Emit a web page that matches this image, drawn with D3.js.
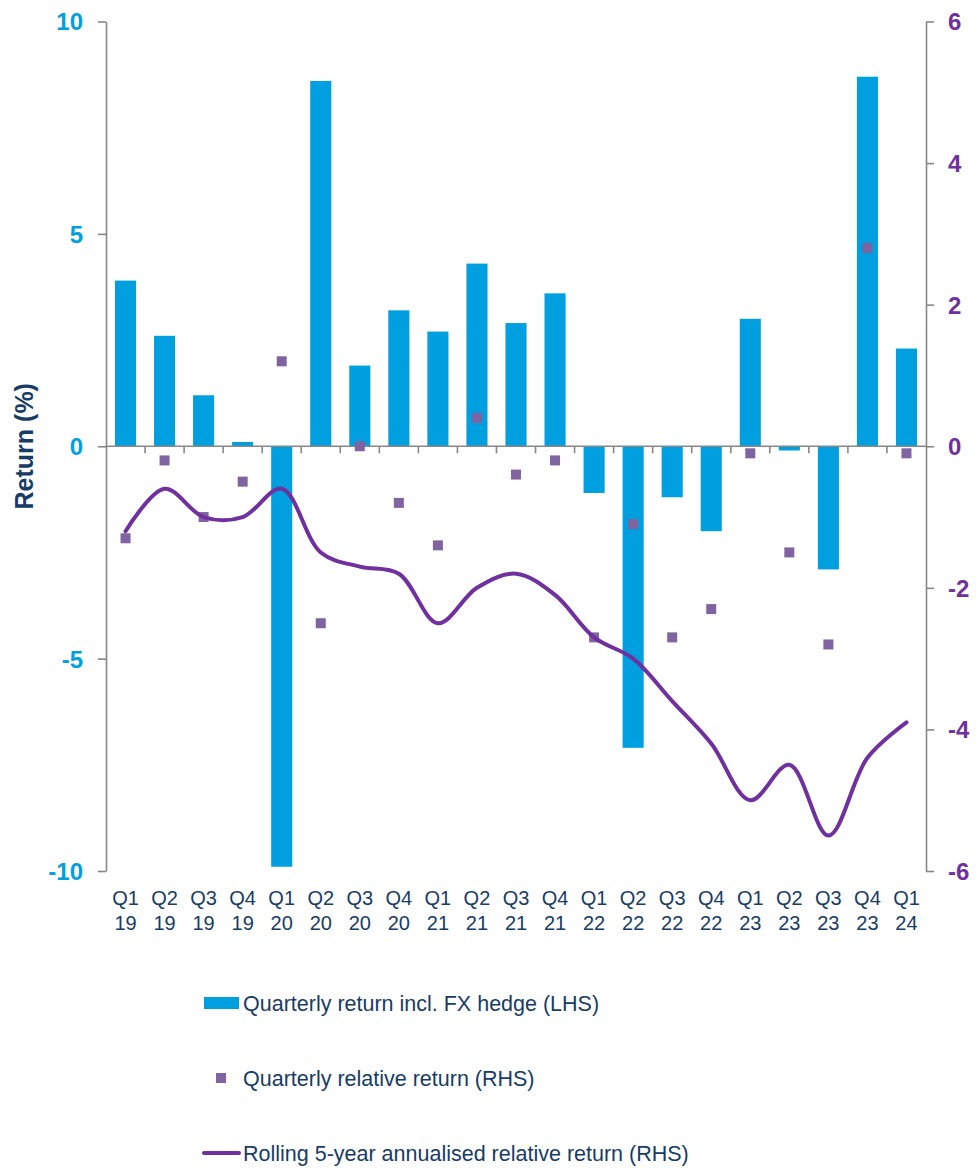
<!DOCTYPE html>
<html>
<head>
<meta charset="utf-8">
<script src="https://cdn.jsdelivr.net/npm/d3@7"></script>
<style>
  body { margin: 0; background: #fff; }
  svg { display: block; font-family: "Liberation Sans", Arial, sans-serif; }
</style>
</head>
<body>
<div id="chartContainer"></div>
<script>
// Quarters (two-line labels)
const quarters = ['Q1', 'Q2', 'Q3', 'Q4', 'Q1', 'Q2', 'Q3', 'Q4', 'Q1', 'Q2', 'Q3', 'Q4',
    'Q1', 'Q2', 'Q3', 'Q4', 'Q1', 'Q2', 'Q3', 'Q4', 'Q1'];
const years = ['19', '19', '19', '19', '20', '20', '20', '20', '21', '21', '21', '21',
    '22', '22', '22', '22', '23', '23', '23', '23', '24'];

// Quarterly return incl. FX hedge (LHS, %)
const quarterlyReturn = [3.9, 2.6, 1.2, 0.1, -9.9, 8.6, 1.9, 3.2, 2.7, 4.3, 2.9, 3.6,
    -1.1, -7.1, -1.2, -2.0, 3.0, -0.1, -2.9, 8.7, 2.3];

// Quarterly relative return (RHS, %)
const relativeReturn = [-1.3, -0.2, -1.0, -0.5, 1.2, -2.5, 0.0, -0.8, -1.4, 0.4, -0.4, -0.2,
    -2.7, -1.1, -2.7, -2.3, -0.1, -1.5, -2.8, 2.8, -0.1];

// Rolling 5-year annualised relative return (RHS, %)
const rollingReturn = [-1.2, -0.6, -1.0, -1.0, -0.6, -1.5, -1.7, -1.8, -2.5, -2.0, -1.8, -2.1,
    -2.7, -3.0, -3.6, -4.2, -5.0, -4.5, -5.5, -4.4, -3.9];

const leftTicks = [-10, -5, 0, 5, 10];
const rightTicks = [-6, -4, -2, 0, 2, 4, 6];

const legendLabels = [
    'Quarterly return incl. FX hedge (LHS)',
    'Quarterly relative return (RHS)',
    'Rolling 5-year annualised relative return (RHS)'
];

const COLORS = {
    bar: '#009fdf',
    dot: '#8064a2',
    line: '#7030a0',
    axis: '#878787',
    leftText: '#00a0e0',
    rightText: '#7030a0',
    navy: '#173c66'
};

const FONT = '"Liberation Sans", Arial, sans-serif';
const width = 976;
const height = 1168;
const plot = { left: 106, right: 926, top: 21.5, bottom: 871 };

const svg = d3.select('#chartContainer')
    .append('svg')
    .attr('width', width)
    .attr('height', height);

const idx = quarters.map((q, i) => i);

// X scale (band per quarter)
const x = d3.scaleBand()
    .domain(idx)
    .range([plot.left, plot.right])
    .paddingInner(0.46)
    .paddingOuter(0.23);

// Y scales
const yL = d3.scaleLinear().domain([-10, 10]).range([plot.bottom, plot.top]);
const yR = d3.scaleLinear().domain([-6, 6]).range([plot.bottom, plot.top]);

// Bars
svg.append('g')
    .selectAll('rect')
    .data(quarterlyReturn)
    .enter()
    .append('rect')
    .attr('x', (d, i) => x(i))
    .attr('y', d => yL(Math.max(0, d)))
    .attr('width', x.bandwidth())
    .attr('height', d => Math.abs(yL(d) - yL(0)))
    .attr('fill', COLORS.bar);

// Left axis
const leftAxis = svg.append('g')
    .attr('transform', `translate(${plot.left},0)`)
    .call(d3.axisLeft(yL).tickValues(leftTicks).tickSize(8).tickSizeOuter(0).tickPadding(15)
        .tickFormat(d => String(d)));

// Right axis
const rightAxis = svg.append('g')
    .attr('transform', `translate(${plot.right},0)`)
    .call(d3.axisRight(yR).tickValues(rightTicks).tickSize(8).tickSizeOuter(0).tickPadding(14)
        .tickFormat(d => String(d)));

[leftAxis, rightAxis].forEach(g => {
    g.attr('font-family', FONT).attr('font-size', 24);
    g.selectAll('path, line').attr('stroke', COLORS.axis).attr('stroke-width', 1.6);
    g.selectAll('text')
        .style('font-weight', 'bold')
        .attr('dy', '0.35em');
});
leftAxis.selectAll('text').attr('fill', COLORS.leftText);
rightAxis.selectAll('text').attr('fill', COLORS.rightText);

// Zero line with category tick marks
const zeroY = yL(0);
const cat = svg.append('g');
cat.append('line')
    .attr('x1', plot.left).attr('x2', plot.right)
    .attr('y1', zeroY).attr('y2', zeroY)
    .attr('stroke', COLORS.axis).attr('stroke-width', 1.6);

const halfGap = (x.step() - x.bandwidth()) / 2;
cat.selectAll('line.tick')
    .data(idx.slice(1))
    .enter()
    .append('line')
    .attr('class', 'tick')
    .attr('x1', i => x(i) - halfGap)
    .attr('x2', i => x(i) - halfGap)
    .attr('y1', zeroY)
    .attr('y2', zeroY + 7)
    .attr('stroke', COLORS.axis)
    .attr('stroke-width', 1.6);

// Category labels (two lines)
const labels = svg.append('g')
    .selectAll('text')
    .data(idx)
    .enter()
    .append('text')
    .attr('text-anchor', 'middle')
    .attr('fill', COLORS.navy)
    .style('font-size', '20px');
labels.append('tspan')
    .attr('x', i => x(i) + x.bandwidth() / 2)
    .attr('y', 905)
    .text(i => quarters[i]);
labels.append('tspan')
    .attr('x', i => x(i) + x.bandwidth() / 2)
    .attr('y', 930)
    .text(i => years[i]);

// Axis title
svg.append('text')
    .attr('transform', `translate(33,${yL(0)}) rotate(-90)`)
    .attr('text-anchor', 'middle')
    .attr('fill', COLORS.navy)
    .style('font-size', '25px')
    .style('font-weight', 'bold')
    .text('Return (%)');

// Quarterly relative return markers
const sq = 10;
svg.append('g')
    .selectAll('rect')
    .data(relativeReturn)
    .enter()
    .append('rect')
    .attr('x', (d, i) => x(i) + x.bandwidth() / 2 - sq / 2)
    .attr('y', d => yR(d) - sq / 2)
    .attr('width', sq)
    .attr('height', sq)
    .attr('fill', COLORS.dot);

// Rolling 5-year line (smoothed)
const line = d3.line()
    .x((d, i) => x(i) + x.bandwidth() / 2)
    .y(d => yR(d))
    .curve(d3.curveCatmullRom.alpha(0.5));

svg.append('path')
    .datum(rollingReturn)
    .attr('d', line)
    .attr('fill', 'none')
    .attr('stroke', COLORS.line)
    .attr('stroke-width', 4)
    .attr('stroke-linecap', 'round');

// Legend
const legend = svg.append('g');
const legendRows = [1003, 1078, 1153];

legend.append('rect')
    .attr('x', 204).attr('y', legendRows[0] - 6)
    .attr('width', 35).attr('height', 12)
    .attr('fill', COLORS.bar);
legend.append('rect')
    .attr('x', 216).attr('y', legendRows[1] - 5)
    .attr('width', 10).attr('height', 10)
    .attr('fill', COLORS.dot);
legend.append('line')
    .attr('x1', 204).attr('x2', 239)
    .attr('y1', legendRows[2]).attr('y2', legendRows[2])
    .attr('stroke', COLORS.line)
    .attr('stroke-width', 4)
    .attr('stroke-linecap', 'round');

legend.selectAll('text')
    .data(legendLabels)
    .enter()
    .append('text')
    .attr('x', 243)
    .attr('y', (d, i) => legendRows[i])
    .attr('dy', '0.36em')
    .attr('fill', COLORS.navy)
    .style('font-size', '21.5px')
    .text(d => d);
</script>
</body>
</html>
